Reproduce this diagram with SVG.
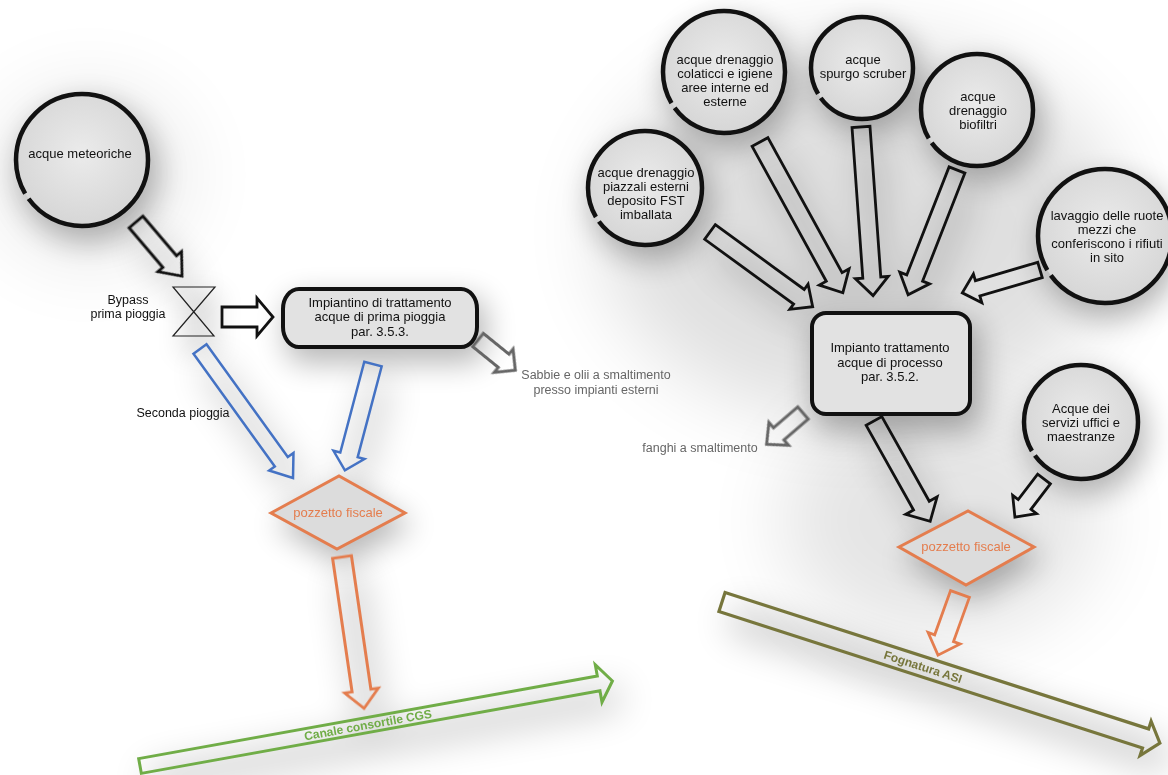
<svg xmlns="http://www.w3.org/2000/svg" width="1168" height="775" viewBox="0 0 1168 775">
<defs>
<filter id="blur" x="-50%" y="-50%" width="200%" height="200%"><feGaussianBlur stdDeviation="15"/></filter>
<filter id="blur2" x="-50%" y="-50%" width="200%" height="200%"><feGaussianBlur stdDeviation="18"/></filter>
<filter id="bigblur" x="-50%" y="-50%" width="200%" height="200%"><feGaussianBlur stdDeviation="40"/></filter>
<radialGradient id="cg" cx="50%" cy="45%" r="55%"><stop offset="0" stop-color="#ebebeb"/><stop offset="1" stop-color="#d6d6d6"/></radialGradient>
<style>
.t{font-family:"Liberation Sans",Arial,sans-serif;font-size:13px;fill:#111;text-anchor:middle}
.tg{font-family:"Liberation Sans",Arial,sans-serif;font-size:12.5px;fill:#666;text-anchor:middle}
.tb{font-family:"Liberation Sans",Arial,sans-serif;font-size:12px;font-weight:bold;text-anchor:middle}
.circ{fill:url(#cg);stroke:#111;stroke-width:4.5;stroke-dasharray:40 1.5 58.5 0}
.box{fill:#e2e2e2;stroke:#111;stroke-width:4}
.ak{fill:none;stroke:#111;stroke-width:2.8;stroke-linejoin:miter}
.ag{fill:none;stroke:#666;stroke-width:3}
.ab{fill:none;stroke:#4472C4;stroke-width:2.5}
.ao{fill:none;stroke:#E47D4E;stroke-width:2.8}
.agr{fill:none;stroke:#70AD47;stroke-width:3}
.aol{fill:none;stroke:#77763C;stroke-width:3.2}
.dia{fill:#dcdcdc;stroke:#E47D4E;stroke-width:3}
.sh{fill:#000}
</style>
</defs>
<rect width="1168" height="775" fill="#ffffff"/>

<!-- shadows -->
<g id="shadows">
<ellipse cx="860" cy="230" rx="260" ry="190" fill="#000" opacity="0.12" filter="url(#bigblur)"/>
<ellipse cx="940" cy="520" rx="160" ry="120" fill="#000" opacity="0.1" filter="url(#bigblur)"/>
<ellipse cx="90" cy="175" rx="100" ry="90" fill="#000" opacity="0.08" filter="url(#bigblur)"/>
<g filter="url(#blur)" opacity="0.28" transform="translate(6,12)">
<circle class="sh" cx="82" cy="160" r="70"/>
<circle class="sh" cx="724" cy="72" r="64"/>
<circle class="sh" cx="862" cy="68" r="54"/>
<circle class="sh" cx="977" cy="110" r="59"/>
<circle class="sh" cx="645" cy="188" r="60"/>
<circle class="sh" cx="1104" cy="236" r="70"/>
<circle class="sh" cx="1081" cy="422" r="60"/>
<rect class="sh" x="280" y="285" width="200" height="66" rx="18"/>
<rect class="sh" x="808" y="309" width="166" height="110" rx="14"/>
<polygon class="sh" points="268,513 339,473 408,513 337,552"/>
<polygon class="sh" points="896,547 968,508 1037,547 966,588"/>
<polygon class="sh" points="173,287 215,287 173,336 214,336"/>
</g>
<g filter="url(#blur2)" opacity="0.2" transform="translate(8,16)">
<g transform="translate(140,766) rotate(-10.2)"><path class="sh" d="M0,-12 L480,-12 L480,12 L0,12Z"/></g>
<g transform="translate(722,602) rotate(17.85)"><path class="sh" d="M0,-14 L460,-14 L460,14 L0,14Z"/></g>
<g transform="translate(342,557) rotate(81.7)"><path class="sh" d="M0,-12 L153,-12 L153,12 L0,12Z"/></g>
<g transform="translate(200,349) rotate(54.2)"><path class="sh" d="M0,-10 L159,-10 L159,10 L0,10Z"/></g>
<g transform="translate(373,364) rotate(104.8)"><path class="sh" d="M0,-10 L110,-10 L110,10 L0,10Z"/></g>
<g transform="translate(874,421) rotate(60.75)"><path class="sh" d="M0,-10 L115,-10 L115,10 L0,10Z"/></g>
<g transform="translate(760,142) rotate(61.2)"><path class="sh" d="M0,-10 L172,-10 L172,10 L0,10Z"/></g>
<g transform="translate(861,127) rotate(85.9)"><path class="sh" d="M0,-10 L169,-10 L169,10 L0,10Z"/></g>
<g transform="translate(957,170) rotate(111.4)"><path class="sh" d="M0,-10 L134,-10 L134,10 L0,10Z"/></g>
<g transform="translate(710,232) rotate(36.06)"><path class="sh" d="M0,-10 L127,-10 L127,10 L0,10Z"/></g>
<g transform="translate(136,222) rotate(49.6)"><path class="sh" d="M0,-10 L71,-10 L71,10 L0,10Z"/></g>
</g>
</g>

<!-- connectors -->
<g id="connectors">
<path class="ak" transform="translate(136,222) rotate(49.6)" d="M0,-9 L52,-9 L52,-15.5 L71,0 L52,15.5 L52,9 L0,9Z"/>
<path class="ak" transform="translate(222,317)" d="M0,-10 L35,-10 L35,-19 L51,0 L35,19 L35,10 L0,10Z"/>
<path class="ag" transform="translate(478,340) rotate(39)" d="M0,-8.5 L33,-8.5 L33,-15 L48,0 L33,15 L33,8.5 L0,8.5Z"/>
<path class="ab" transform="translate(200,349) rotate(54.2)" d="M0,-8 L139,-8 L139,-15 L159,0 L139,15 L139,8 L0,8Z"/>
<path class="ab" transform="translate(373,364) rotate(104.8)" d="M0,-9 L94,-9 L94,-16 L110,0 L94,16 L94,9 L0,9Z"/>
<path class="ao" transform="translate(342,557) rotate(81.7)" d="M0,-9.5 L135,-9.5 L135,-17 L153,0 L135,17 L135,9.5 L0,9.5Z"/>
<path class="agr" transform="translate(140,766) rotate(-10.2)" d="M0,-7.5 L466,-7.5 L466,-19 L480,0 L466,19 L466,7.5 L0,7.5Z"/>
<path class="aol" transform="translate(722,602) rotate(17.85)" d="M0,-10 L445,-10 L445,-18 L460,0 L445,18 L445,10 L0,10Z"/>
<path class="ao" transform="translate(960,594) rotate(109.8)" d="M0,-10 L47,-10 L47,-17 L65,0 L47,17 L47,10 L0,10Z"/>
<path class="ag" transform="translate(803,413) rotate(139.3)" d="M0,-8 L32,-8 L32,-15 L48,0 L32,15 L32,8 L0,8Z"/>
<path class="ak" transform="translate(874,421) rotate(60.75)" d="M0,-9 L97,-9 L97,-18 L115,0 L97,18 L97,9 L0,9Z"/>
<path class="ak" transform="translate(1044,479) rotate(127.3)" d="M0,-8 L32,-8 L32,-15 L48,0 L32,15 L32,8 L0,8Z"/>
<path class="ak" transform="translate(760,142) rotate(61.2)" d="M0,-9 L154,-9 L154,-17 L172,0 L154,17 L154,9 L0,9Z"/>
<path class="ak" transform="translate(861,127) rotate(85.9)" d="M0,-9 L151,-9 L151,-16.5 L169,0 L151,16.5 L151,9 L0,9Z"/>
<path class="ak" transform="translate(957,170) rotate(111.4)" d="M0,-8.5 L116,-8.5 L116,-16 L134,0 L116,16 L116,8.5 L0,8.5Z"/>
<path class="ak" transform="translate(710,232) rotate(36.06)" d="M0,-9 L110,-9 L110,-15.5 L127,0 L110,15.5 L110,9 L0,9Z"/>
<path class="ak" transform="translate(1040,270) rotate(163.6)" d="M0,-8 L65,-8 L65,-15 L81,0 L65,15 L65,8 L0,8Z"/>
<text class="tb" style="fill:#70AD47" transform="translate(368,725) rotate(-10.2)" x="0" y="4">Canale consortile CGS</text>
<text class="tb" style="fill:#77763C" transform="translate(923,667) rotate(18)" x="0" y="4">Fognatura ASI</text>
<text class="t" x="183" y="417" style="font-size:12.5px">Seconda pioggia</text>
</g>

<!-- nodes -->
<g id="n-meteoriche">
<circle class="circ" cx="82" cy="160" r="66" pathLength="100"/>
<text class="t" x="80" y="158">acque meteoriche</text>
</g>
<g id="n-bypass">
<path d="M173,287 L215,287 L173,336 L214,336 Z" fill="none" stroke="#222" stroke-width="1.2"/>
<text class="t" x="128" y="304" style="font-size:12.5px">Bypass</text>
<text class="t" x="128" y="318" style="font-size:12.5px">prima pioggia</text>
</g>
<g id="n-impiantino">
<rect class="box" x="283" y="289" width="194" height="58" rx="16" ry="20"/>
<text class="t" x="380" y="307">Impiantino di trattamento</text>
<text class="t" x="380" y="321">acque di prima pioggia</text>
<text class="t" x="380" y="336">par. 3.5.3.</text>
</g>
<g id="n-sabbie">
<text class="tg" x="596" y="379">Sabbie e olii a smaltimento</text>
<text class="tg" x="596" y="394">presso impianti esterni</text>
</g>
<g id="n-pozzetto1">
<polygon class="dia" points="271,513 339,476 405,513 337,549"/>
<text class="t" x="338" y="517" style="fill:#E47D4E">pozzetto fiscale</text>
</g>
<g id="n-colaticci">
<circle class="circ" cx="724" cy="72" r="61" pathLength="100"/>
<text class="t" x="725" y="64">acque drenaggio</text>
<text class="t" x="725" y="78">colaticci e igiene</text>
<text class="t" x="725" y="92">aree interne ed</text>
<text class="t" x="725" y="106">esterne</text>
</g>
<g id="n-spurgo">
<circle class="circ" cx="862" cy="68" r="51" pathLength="100"/>
<text class="t" x="863" y="64">acque</text>
<text class="t" x="863" y="78">spurgo scruber</text>
</g>
<g id="n-biofiltri">
<circle class="circ" cx="977" cy="110" r="56" pathLength="100"/>
<text class="t" x="978" y="101">acque</text>
<text class="t" x="978" y="115">drenaggio</text>
<text class="t" x="978" y="129">biofiltri</text>
</g>
<g id="n-piazzali">
<circle class="circ" cx="645" cy="188" r="57" pathLength="100"/>
<text class="t" x="646" y="177">acque drenaggio</text>
<text class="t" x="646" y="191">piazzali esterni</text>
<text class="t" x="646" y="205">deposito FST</text>
<text class="t" x="646" y="219">imballata</text>
</g>
<g id="n-lavaggio">
<circle class="circ" cx="1105" cy="236" r="67" pathLength="100"/>
<text class="t" x="1107" y="220">lavaggio delle ruote</text>
<text class="t" x="1107" y="234">mezzi che</text>
<text class="t" x="1107" y="248">conferiscono i rifiuti</text>
<text class="t" x="1107" y="262">in sito</text>
</g>
<g id="n-impianto">
<rect class="box" x="812" y="313" width="158" height="101" rx="14"/>
<text class="t" x="890" y="352">Impianto trattamento</text>
<text class="t" x="890" y="367">acque di processo</text>
<text class="t" x="890" y="381">par. 3.5.2.</text>
</g>
<g id="n-fanghi">
<text class="tg" x="700" y="452">fanghi a smaltimento</text>
</g>
<g id="n-servizi">
<circle class="circ" cx="1081" cy="422" r="57" pathLength="100"/>
<text class="t" x="1081" y="413">Acque dei</text>
<text class="t" x="1081" y="427">servizi uffici e</text>
<text class="t" x="1081" y="441">maestranze</text>
</g>
<g id="n-pozzetto2">
<polygon class="dia" points="899,547 968,511 1034,547 966,585"/>
<text class="t" x="966" y="551" style="fill:#E47D4E">pozzetto fiscale</text>
</g>
</svg>
